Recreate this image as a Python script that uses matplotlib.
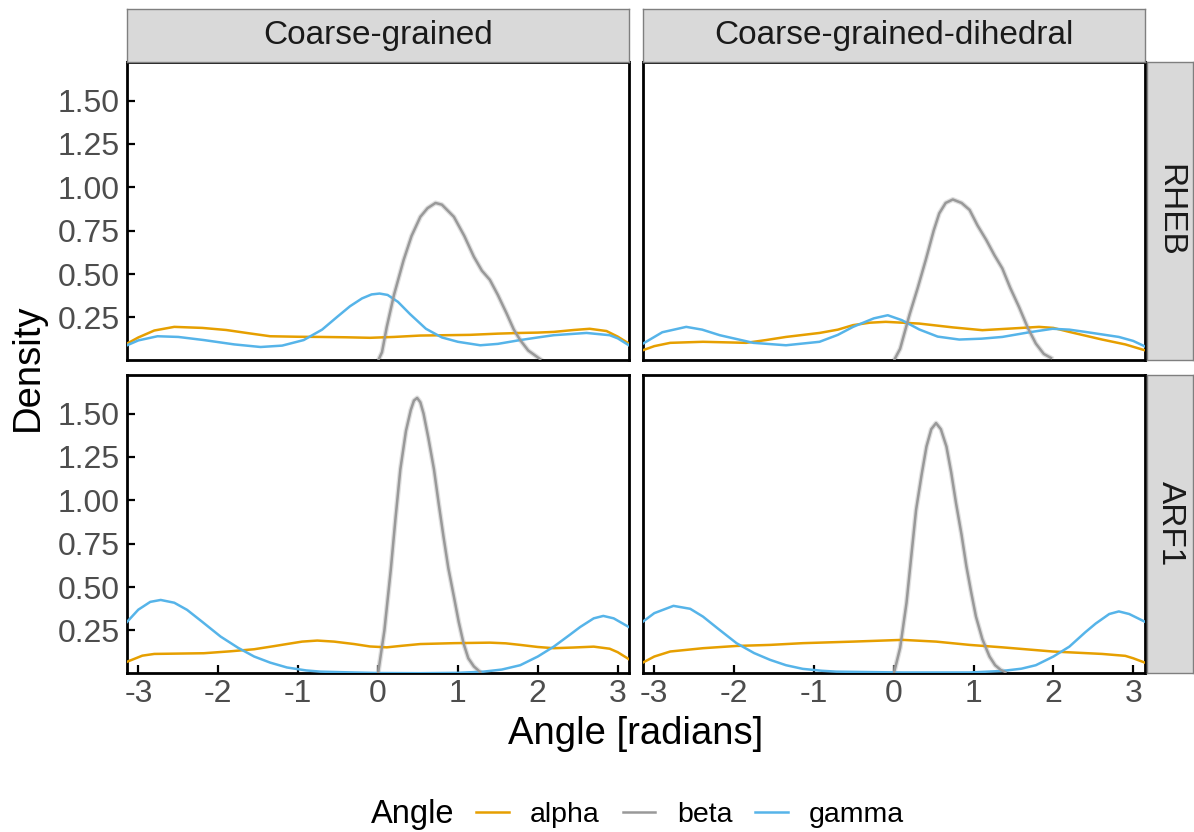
import numpy as np
import matplotlib
matplotlib.use("Agg")
import matplotlib.pyplot as plt
from matplotlib.lines import Line2D

plt.rcParams['font.family'] = ['Liberation Sans', 'DejaVu Sans']

# facet labels
methods = ['Coarse-grained', 'Coarse-grained-dihedral']
proteins = ['RHEB', 'ARF1']
angles = ['alpha', 'beta', 'gamma']
colors = {'alpha': '#E69F00', 'beta': '#999999', 'gamma': '#56B4E9'}

y_ticks = [0.25, 0.50, 0.75, 1.00, 1.25, 1.50]
x_ticks = [-3, -2, -1, 0, 1, 2, 3]

# --- Coarse-grained / RHEB ---
cg_rheb_alpha_x = [-3.14, -3.0, -2.8, -2.55, -2.2, -1.9, -1.6, -1.35, -1.0, -0.72, -0.4, -0.1, 0.2, 0.53, 0.85,
                   1.15, 1.5, 1.78, 2.0, 2.2, 2.45, 2.65, 2.86, 3.0, 3.14]
cg_rheb_alpha_y = [0.10, 0.135, 0.175, 0.196, 0.19, 0.178, 0.158, 0.142, 0.139, 0.138, 0.136, 0.133, 0.138, 0.146,
                   0.148, 0.150, 0.157, 0.161, 0.163, 0.167, 0.178, 0.185, 0.172, 0.14, 0.10]
cg_rheb_beta_x = [0.0, 0.05, 0.11, 0.2, 0.32, 0.42, 0.53, 0.62, 0.72, 0.8, 0.95, 1.08, 1.2, 1.3, 1.4, 1.5,
                  1.61, 1.7, 1.78, 1.88, 2.03]
cg_rheb_beta_y = [0.0, 0.05, 0.196, 0.38, 0.58, 0.72, 0.83, 0.88, 0.91, 0.90, 0.83, 0.72, 0.60, 0.52, 0.467, 0.38,
                  0.273, 0.18, 0.12, 0.06, 0.01]
cg_rheb_gamma_x = [-3.14, -3.0, -2.76, -2.5, -2.18, -1.8, -1.47, -1.2, -0.93, -0.7, -0.51, -0.35, -0.2, -0.08,
                   0.02, 0.12, 0.25, 0.4, 0.6, 0.8, 1.0, 1.28, 1.5, 1.78, 2.0, 2.2, 2.61, 2.9, 3.0, 3.14]
cg_rheb_gamma_y = [0.09, 0.118, 0.142, 0.138, 0.12, 0.095, 0.08, 0.088, 0.12, 0.18, 0.254, 0.315, 0.36, 0.383,
                   0.388, 0.38, 0.34, 0.27, 0.185, 0.135, 0.11, 0.090, 0.098, 0.12, 0.135, 0.148, 0.161, 0.148,
                   0.13, 0.09]

# --- Coarse-grained-dihedral / RHEB ---
cgd_rheb_alpha_x = [-3.14, -3.0, -2.8, -2.39, -1.85, -1.6, -1.35, -0.93, -0.7, -0.51, -0.3, -0.1, 0.32, 0.74,
                    1.11, 1.49, 1.82, 2.0, 2.2, 2.61, 2.9, 3.14]
cgd_rheb_alpha_y = [0.062, 0.085, 0.104, 0.11, 0.104, 0.12, 0.138, 0.161, 0.18, 0.206, 0.22, 0.225, 0.215, 0.193,
                    0.177, 0.187, 0.196, 0.19, 0.167, 0.123, 0.095, 0.062]
cgd_rheb_beta_x = [0.0, 0.08, 0.2, 0.3, 0.4, 0.5, 0.57, 0.65, 0.74, 0.85, 0.95, 1.05, 1.16, 1.26, 1.36, 1.46,
                   1.57, 1.68, 1.78, 1.88, 1.97]
cgd_rheb_beta_y = [0.0, 0.07, 0.27, 0.42, 0.58, 0.75, 0.85, 0.91, 0.93, 0.91, 0.87, 0.78, 0.696, 0.61, 0.533, 0.42,
                   0.31, 0.19, 0.10, 0.04, 0.017]
cgd_rheb_gamma_x = [-3.14, -2.9, -2.6, -2.4, -2.18, -1.76, -1.35, -0.93, -0.7, -0.51, -0.25, -0.075, 0.1, 0.32,
                    0.55, 0.82, 1.1, 1.36, 1.7, 1.99, 2.2, 2.4, 2.82, 3.0, 3.14]
cgd_rheb_gamma_y = [0.10, 0.165, 0.196, 0.18, 0.148, 0.104, 0.09, 0.11, 0.15, 0.196, 0.245, 0.263, 0.235, 0.181,
                    0.14, 0.123, 0.128, 0.138, 0.165, 0.185, 0.18, 0.167, 0.138, 0.115, 0.085]

# --- Coarse-grained / ARF1 ---
cg_arf1_alpha_x = [-3.14, -2.95, -2.8, -2.5, -2.18, -1.85, -1.55, -1.3, -1.14, -0.95, -0.76, -0.55, -0.3, -0.1,
                   0.11, 0.3, 0.53, 0.95, 1.4, 1.6, 1.78, 2.0, 2.2, 2.45, 2.7, 2.9, 3.0, 3.14]
cg_arf1_alpha_y = [0.07, 0.105, 0.115, 0.117, 0.119, 0.13, 0.142, 0.16, 0.172, 0.186, 0.192, 0.186, 0.172, 0.158,
                   0.153, 0.162, 0.172, 0.177, 0.18, 0.176, 0.167, 0.155, 0.148, 0.152, 0.157, 0.145, 0.125, 0.085]
cg_arf1_beta_x = [0.0, 0.08, 0.16, 0.22, 0.28, 0.35, 0.41, 0.45, 0.49, 0.53, 0.57, 0.63, 0.7, 0.76, 0.82, 0.88,
                  0.95, 1.01, 1.07, 1.13, 1.2, 1.28]
cg_arf1_beta_y = [0.0, 0.25, 0.6, 0.9, 1.18, 1.40, 1.52, 1.575, 1.59, 1.565, 1.50, 1.36, 1.18, 0.98, 0.79, 0.61,
                  0.445, 0.30, 0.177, 0.09, 0.043, 0.01]
cg_arf1_gamma_x = [-3.14, -3.0, -2.85, -2.72, -2.55, -2.39, -2.2, -1.97, -1.75, -1.55, -1.35, -1.14, -0.9, -0.72,
                   -0.3, 0.0, 0.53, 1.0, 1.32, 1.55, 1.78, 2.0, 2.2, 2.4, 2.53, 2.7, 2.82, 2.95, 3.14]
cg_arf1_gamma_y = [0.30, 0.37, 0.415, 0.426, 0.41, 0.369, 0.30, 0.215, 0.15, 0.10, 0.065, 0.037, 0.02, 0.013,
                   0.008, 0.005, 0.004, 0.006, 0.013, 0.025, 0.05, 0.10, 0.157, 0.225, 0.27, 0.32, 0.334, 0.32, 0.27]

# --- Coarse-grained-dihedral / ARF1 ---
cgd_arf1_alpha_x = [-3.14, -3.0, -2.8, -2.39, -1.97, -1.55, -1.14, -0.51, 0.11, 0.53, 0.95, 1.36, 1.99, 2.61,
                    2.9, 3.0, 3.14]
cgd_arf1_alpha_y = [0.066, 0.10, 0.129, 0.148, 0.161, 0.167, 0.177, 0.186, 0.196, 0.186, 0.167, 0.153, 0.129,
                    0.115, 0.104, 0.09, 0.066]
cgd_arf1_beta_x = [0.0, 0.08, 0.16, 0.22, 0.28, 0.35, 0.41, 0.47, 0.53, 0.59, 0.66, 0.72, 0.78, 0.85, 0.91, 0.97,
                   1.03, 1.11, 1.2, 1.27, 1.34, 1.4]
cgd_arf1_beta_y = [0.0, 0.15, 0.41, 0.68, 0.946, 1.15, 1.31, 1.41, 1.445, 1.41, 1.31, 1.16, 0.984, 0.80, 0.62,
                   0.47, 0.33, 0.2, 0.1, 0.05, 0.023, 0.01]
cgd_arf1_gamma_x = [-3.14, -3.0, -2.76, -2.55, -2.39, -2.2, -1.97, -1.75, -1.55, -1.35, -1.14, -0.9, -0.72, 0.11,
                    0.95, 1.36, 1.6, 1.78, 2.0, 2.2, 2.4, 2.53, 2.7, 2.82, 2.95, 3.14]
cgd_arf1_gamma_y = [0.302, 0.35, 0.392, 0.375, 0.33, 0.26, 0.177, 0.12, 0.081, 0.05, 0.029, 0.018, 0.013, 0.008,
                    0.008, 0.017, 0.03, 0.05, 0.10, 0.157, 0.24, 0.29, 0.345, 0.36, 0.345, 0.302]

panels = {
    ('RHEB', 'Coarse-grained'): {
        'alpha': (cg_rheb_alpha_x, cg_rheb_alpha_y),
        'beta': (cg_rheb_beta_x, cg_rheb_beta_y),
        'gamma': (cg_rheb_gamma_x, cg_rheb_gamma_y)},
    ('RHEB', 'Coarse-grained-dihedral'): {
        'alpha': (cgd_rheb_alpha_x, cgd_rheb_alpha_y),
        'beta': (cgd_rheb_beta_x, cgd_rheb_beta_y),
        'gamma': (cgd_rheb_gamma_x, cgd_rheb_gamma_y)},
    ('ARF1', 'Coarse-grained'): {
        'alpha': (cg_arf1_alpha_x, cg_arf1_alpha_y),
        'beta': (cg_arf1_beta_x, cg_arf1_beta_y),
        'gamma': (cg_arf1_gamma_x, cg_arf1_gamma_y)},
    ('ARF1', 'Coarse-grained-dihedral'): {
        'alpha': (cgd_arf1_alpha_x, cgd_arf1_alpha_y),
        'beta': (cgd_arf1_beta_x, cgd_arf1_beta_y),
        'gamma': (cgd_arf1_gamma_x, cgd_arf1_gamma_y)},
}

W, H = 1194, 832
fig = plt.figure(figsize=(W / 100, H / 100), dpi=100)


def px_axes(left, top, right, bottom):
    # axes from pixel box (origin top-left)
    return fig.add_axes([left / W, 1 - bottom / H, (right - left) / W, (bottom - top) / H])


col_px = [(127, 629), (643, 1144.5)]
row_px = [(61.5, 359.5), (374.5, 672.5)]
tick_col = '#4D4D4D'

for r, prot in enumerate(proteins):
    for c, meth in enumerate(methods):
        l, rr = col_px[c]
        t, b = row_px[r]
        ax = px_axes(l, t, rr, b)
        data = panels[(prot, meth)]
        for name in ['alpha', 'gamma', 'beta']:
            xs, ys = data[name]
            if name == 'beta':
                # light ribbon look around the beta curve
                ax.plot(xs, ys, color='#C8C8C8', lw=3.6, alpha=0.55, solid_joinstyle='round', zorder=2)
            ax.plot(xs, ys, color=colors[name], lw=1.8, solid_joinstyle='round', zorder=3)
        ax.set_xlim(-np.pi, np.pi)
        ax.set_ylim(0.008, 1.725)
        ax.set_xticks(x_ticks)
        ax.set_yticks(y_ticks)
        ax.tick_params(direction='in', length=6, width=1.6, color='black',
                       labelsize=23, labelcolor=tick_col, pad=5)
        if c == 0:
            ax.set_yticklabels([f'{v:.2f}' for v in y_ticks])
        else:
            ax.tick_params(axis='y', left=False, labelleft=False)
        if r == 1:
            ax.set_xticklabels([str(v) for v in x_ticks])
        else:
            ax.tick_params(axis='x', bottom=False, labelbottom=False)
        for sp in ax.spines.values():
            sp.set_linewidth(2.0)
            sp.set_color('black')

        # top strips
        if r == 0:
            s = px_axes(l, 9, rr, t)
            s.set_facecolor('#D9D9D9')
            s.set_xticks([])
            s.set_yticks([])
            for sp in s.spines.values():
                sp.set_color('#7F7F7F')
                sp.set_linewidth(1.0)
            s.text(0.5, 0.5, meth, ha='center', va='center', fontsize=24, color='#1A1A1A',
                   transform=s.transAxes)
        # right strips
        if c == 1:
            s = px_axes(1147, t, 1193, b)
            s.set_facecolor('#D9D9D9')
            s.set_xticks([])
            s.set_yticks([])
            for sp in s.spines.values():
                sp.set_color('#7F7F7F')
                sp.set_linewidth(1.0)
            s.text(0.5, 0.5, prot, ha='center', va='center', fontsize=24, color='#1A1A1A',
                   rotation=-90, transform=s.transAxes)

# axis titles
fig.text(28 / W, 1 - 367 / H, 'Density', rotation=90, ha='center', va='center', fontsize=27.5)
fig.text(636 / W, 1 - 734 / H, 'Angle [radians]', ha='center', va='center', fontsize=27.5)

# legend
handles = [Line2D([0], [0], color=colors[a], lw=1.8) for a in angles]
fig.legend(handles, angles, loc='center left', bbox_to_anchor=(476 / W, 1 - 815 / H), ncol=3,
           frameon=False, fontsize=20.5, handlelength=1.15, handletextpad=0.75,
           columnspacing=0.8, borderaxespad=0, borderpad=0)
fig.text(371 / W, 1 - 815 / H, 'Angle', ha='left', va='center', fontsize=23.5)

fig.savefig('out.png', dpi=100)
